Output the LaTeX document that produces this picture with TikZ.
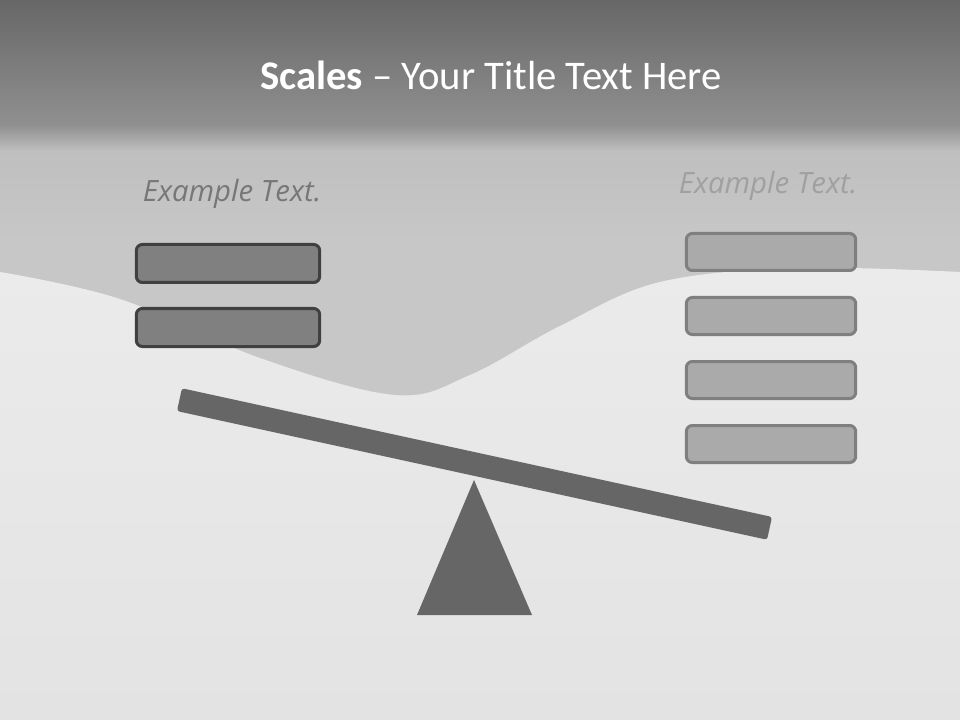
\documentclass[tikz,border=0pt]{standalone}
\usepackage{fontspec}
\setmainfont{Carlito}
\newfontfamily\exfont{Open Sans}
\usetikzlibrary{positioning}
\definecolor{hdtop}{HTML}{676767}
\definecolor{hdbot}{HTML}{909090}
\definecolor{sky}{HTML}{C7C7C7}
\definecolor{skytop}{HTML}{BDBDBD}
\definecolor{snow}{HTML}{EBEBEB}
\definecolor{snowlow}{HTML}{E3E3E3}
\definecolor{beamgray}{HTML}{666666}
\definecolor{heavyfill}{HTML}{808080}
\definecolor{heavyline}{HTML}{404040}
\definecolor{lightfill}{HTML}{AAAAAA}
\definecolor{lightline}{HTML}{7F7F7F}
\definecolor{labdark}{HTML}{777777}
\definecolor{lablight}{HTML}{A0A0A0}
\tikzset{
  pan/.style={rounded corners=4.5pt,line width=2.25pt,inner sep=0pt},
  heavy/.style={pan,fill=heavyfill,draw=heavyline,minimum width=137.5pt,minimum height=28.5pt},
  light/.style={pan,fill=lightfill,draw=lightline,minimum width=127pt,minimum height=27.75pt},
  extext/.style={font=\exfont\itshape\fontsize{22}{26}\selectfont,inner sep=0pt},
}
\begin{document}
\begin{tikzpicture}[x=0.75pt,y=-0.75pt]
\useasboundingbox (0,0) rectangle (960,720);
% background
\fill[sky] (0,0) rectangle (960,720);
\shade[top color=skytop,bottom color=sky] (0,128) rectangle (960,240);
\shade[top color=hdtop,bottom color=hdbot] (0,0) rectangle (960,126);
\shade[top color=hdbot,bottom color=skytop] (0,125) rectangle (960,150);
\shade[top color=snow,bottom color=snowlow] plot[smooth,tension=0.6] coordinates
  {(0,272) (120,299) (260,358) (395,395) (470,375) (560,326) (660,282) (800,268) (960,272)}
  -- (960,720) -- (0,720) -- cycle;
% title
\node[text=white,font=\fontsize{30.5}{36}\selectfont,inner sep=0pt] (title) at (491,75)
  {\textbf{Scales} – Your Title Text Here};
% left pan
\node[extext,text=labdark] (ltext) at (232,194) {Example Text.};
\node[heavy] (l1) at (228,263.5) {};
\node[heavy,below=17.25pt of l1] (l2) {};
% right pan
\node[extext,text=lablight] (rtext) at (768,186) {Example Text.};
\node[light] (r1) at (771,252) {};
\node[light,below=18pt of r1] (r2) {};
\node[light,below=18pt of r2] (r3) {};
\node[light,below=18pt of r3] (r4) {};
% seesaw
\fill[beamgray] (474,480) -- (417,615) -- (532,615) -- cycle;
\node[fill=beamgray,rounded corners=2pt,rotate=-12.3,minimum width=453pt,minimum height=17.5pt,inner sep=0pt] (beam) at (474.5,464) {};
\end{tikzpicture}
\end{document}
